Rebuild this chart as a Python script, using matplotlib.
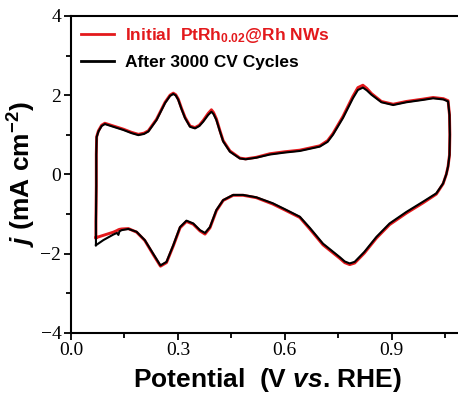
import matplotlib.pyplot as plt
from matplotlib.ticker import MultipleLocator

plt.rcParams['mathtext.fontset'] = 'custom'
plt.rcParams['mathtext.rm'] = 'Liberation Sans:bold'
plt.rcParams['mathtext.bf'] = 'Liberation Sans:bold'
plt.rcParams['mathtext.it'] = 'Liberation Sans:bold:italic'

# potential (V vs RHE), one full CV loop: anodic sweep then cathodic sweep
potential = [0.070, 0.070, 0.071, 0.071, 0.072, 0.077, 0.086, 0.095, 0.119, 0.147,
             0.170, 0.189, 0.205, 0.217, 0.240, 0.264, 0.278, 0.287, 0.294, 0.301,
             0.310, 0.320, 0.334, 0.348, 0.360, 0.371, 0.385, 0.394, 0.400, 0.408,
             0.418, 0.427, 0.446, 0.474, 0.490, 0.520, 0.558, 0.600, 0.642, 0.698,
             0.720, 0.735, 0.763, 0.791, 0.805, 0.819, 0.830, 0.843, 0.871, 0.904,
             0.941, 0.988, 1.016, 1.045, 1.058, 1.062, 1.063, 1.062, 1.058, 1.053,
             1.044, 1.025, 0.988, 0.941, 0.894, 0.857, 0.823, 0.796, 0.782, 0.768,
             0.754, 0.707, 0.670, 0.642, 0.600, 0.566, 0.520, 0.483, 0.455, 0.427,
             0.408, 0.390, 0.376, 0.362, 0.343, 0.324, 0.306, 0.287, 0.268, 0.251,
             0.231, 0.207, 0.184, 0.161, 0.142, 0.136, 0.133, 0.129, 0.119, 0.091,
             0.070]

j_after = [-1.79, -1.20, -0.30, 0.50, 0.94, 1.08, 1.22, 1.27, 1.20, 1.12,
           1.04, 0.99, 1.02, 1.08, 1.37, 1.80, 1.98, 2.03, 1.99, 1.88,
           1.65, 1.42, 1.20, 1.16, 1.22, 1.33, 1.50, 1.58, 1.52, 1.37,
           1.08, 0.83, 0.57, 0.40, 0.38, 0.42, 0.50, 0.55, 0.59, 0.70,
           0.82, 1.00, 1.42, 1.92, 2.13, 2.19, 2.12, 2.01, 1.82, 1.75,
           1.82, 1.88, 1.92, 1.89, 1.84, 1.50, 1.00, 0.49, 0.20, 0.00,
           -0.23, -0.48, -0.69, -0.95, -1.24, -1.58, -1.96, -2.21, -2.25, -2.20,
           -2.09, -1.75, -1.35, -1.07, -0.88, -0.73, -0.58, -0.52, -0.52, -0.65,
           -0.90, -1.33, -1.48, -1.41, -1.24, -1.17, -1.33, -1.79, -2.21, -2.30,
           -2.01, -1.66, -1.45, -1.38, -1.41, -1.44, -1.53, -1.48, -1.52, -1.66,
           -1.79]

j_initial = [-1.60, -1.20, -0.30, 0.50, 0.95, 1.10, 1.24, 1.29, 1.22, 1.14,
             1.06, 1.01, 1.04, 1.10, 1.39, 1.82, 2.00, 2.05, 2.01, 1.90,
             1.67, 1.44, 1.22, 1.18, 1.24, 1.36, 1.54, 1.63, 1.56, 1.40,
             1.10, 0.85, 0.59, 0.41, 0.39, 0.43, 0.52, 0.57, 0.61, 0.72,
             0.85, 1.03, 1.46, 1.97, 2.19, 2.25, 2.17, 2.04, 1.84, 1.77,
             1.84, 1.90, 1.94, 1.91, 1.86, 1.50, 1.00, 0.49, 0.20, 0.00,
             -0.24, -0.50, -0.72, -0.98, -1.27, -1.61, -1.99, -2.24, -2.28, -2.23,
             -2.12, -1.78, -1.38, -1.09, -0.90, -0.75, -0.59, -0.53, -0.53, -0.66,
             -0.92, -1.35, -1.51, -1.43, -1.26, -1.19, -1.35, -1.81, -2.23, -2.32,
             -2.03, -1.67, -1.46, -1.37, -1.38, -1.39, -1.40, -1.42, -1.46, -1.54,
             -1.60]

fig = plt.figure(figsize=(4.58, 3.98), dpi=100)
ax = fig.add_axes([0.155, 0.164, 0.856, 0.796])

ax.plot(potential, j_initial, color='#e3191c', lw=2.1, solid_joinstyle='round',
        label='Initial  PtRh$_{0.02}$@Rh NWs')
ax.plot(potential, j_after, color='black', lw=1.5, solid_joinstyle='round',
        label='After 3000 CV Cycles')

ax.set_xlim(0, 1.1)
ax.set_ylim(-4, 4)
ax.xaxis.set_major_locator(MultipleLocator(0.3))
ax.xaxis.set_minor_locator(MultipleLocator(0.15))
ax.yaxis.set_major_locator(MultipleLocator(2))
ax.yaxis.set_minor_locator(MultipleLocator(1))
ax.xaxis.set_major_formatter(lambda v, p: f'{v:.1f}')
ax.tick_params(which='both', direction='out', width=1.3, labelsize=14, pad=2)
ax.tick_params(which='major', length=5)
ax.tick_params(which='minor', length=3.5)
for lab in ax.get_xticklabels() + ax.get_yticklabels():
    lab.set_family('Liberation Serif')
for s in ax.spines.values():
    s.set_linewidth(1.5)

ax.set_xlabel('Potential  (V $vs$. RHE)', fontsize=19, fontweight='bold',
              family='Liberation Sans', labelpad=5)
ax.set_ylabel('$j$ (mA cm$^{-2}$)', fontsize=19, fontweight='bold',
              family='Liberation Sans', labelpad=2)

leg = ax.legend(loc='upper left', frameon=False, handlelength=1.9, handletextpad=0.6,
                prop={'family': 'Liberation Sans', 'weight': 'bold', 'size': 12.5},
                labelcolor='linecolor', borderaxespad=0.2, labelspacing=0.55)
for h in leg.legend_handles:
    h.set_linewidth(2)

fig.savefig('out.png', dpi=100)
